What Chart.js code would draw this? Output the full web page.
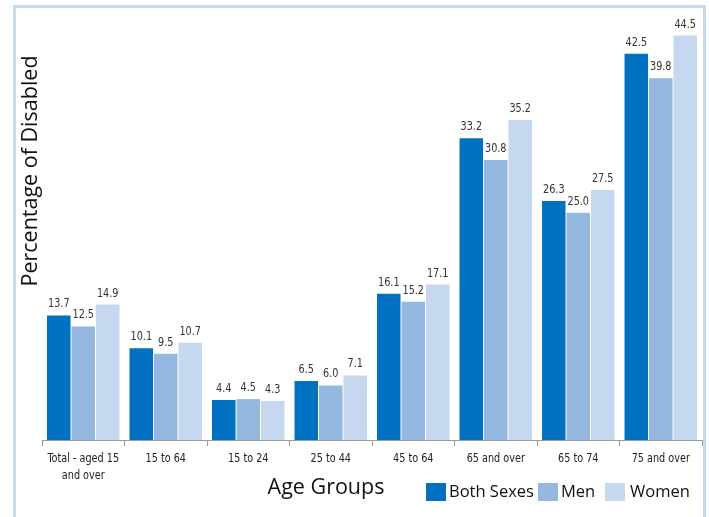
<!DOCTYPE html>
<html>
<head>
<meta charset="utf-8">
<script src="https://cdn.jsdelivr.net/npm/chart.js@4/dist/chart.umd.min.js"></script>
<style>
html,body{margin:0;padding:0;background:#fff;}
#wrap{width:709px;height:517px;position:relative;}
canvas{display:block;}
</style>
</head>
<body>
<div id="wrap"><canvas id="c" width="709" height="517"></canvas></div>
<script>
const categories = [["Total - aged 15","and over"],"15 to 64","15 to 24","25 to 44","45 to 64","65 and over","65 to 74","75 and over"];
const bothSexes = [13.7,10.1,4.4,6.5,16.1,33.2,26.3,42.5];
const men = [12.5,9.5,4.5,6.0,15.2,30.8,25.0,39.8];
const women = [14.9,10.7,4.3,7.1,17.1,35.2,27.5,44.5];
const seriesNames = ["Both Sexes","Men","Women"];
const seriesColors = ["#0070C0","#95B8E1","#C6D8EF"];
const yTitle = "Percentage of Disabled";
const xTitle = "Age Groups";

const narrow = '"DejaVu Sans Condensed","DejaVu Sans",sans-serif';
const mainFont = '"Open Sans","Noto Sans",sans-serif';
const squeeze = 0.86;

function narrowText(ctx, text, x, y){
  ctx.save();
  ctx.translate(x,y);
  ctx.scale(squeeze,1);
  ctx.fillText(text,0,0);
  ctx.restore();
}

const decor = {
  id:'decor',
  beforeDraw(chart){
    const ctx = chart.ctx;
    ctx.save();
    ctx.fillStyle='#fff';
    ctx.fillRect(0,0,chart.width,chart.height);
    ctx.strokeStyle='#C6D9F1';
    ctx.lineWidth=3;
    ctx.strokeRect(14.5,6.5,690,560);
    ctx.restore();
  },
  afterDatasetsDraw(chart){
    const ctx = chart.ctx;
    ctx.save();
    ctx.font = '12.5px '+narrow;
    ctx.fillStyle = '#333';
    ctx.textAlign='center';
    ctx.textBaseline='bottom';
    chart.data.datasets.forEach((ds,i)=>{
      chart.getDatasetMeta(i).data.forEach((bar,j)=>{
        narrowText(ctx, ds.data[j].toFixed(1), bar.x, bar.y-5);
      });
    });
    ctx.restore();
  },
  afterDraw(chart){
    const ctx = chart.ctx;
    const xs = chart.scales.x;
    ctx.save();
    // category labels
    ctx.font = '12.5px '+narrow;
    ctx.fillStyle='#222';
    ctx.textAlign='center';
    ctx.textBaseline='middle';
    chart.data.labels.forEach((lab,i)=>{
      const px = xs.getPixelForTick(i);
      const lines = Array.isArray(lab)?lab:[lab];
      lines.forEach((ln,k)=>narrowText(ctx, ln, px, 459+k*17));
    });
    ctx.restore();
    ctx.save();
    ctx.fillStyle='#111';
    ctx.font = '21.5px '+mainFont;
    ctx.textAlign='center';
    ctx.textBaseline='middle';
    ctx.translate(31,171);
    ctx.rotate(-Math.PI/2);
    ctx.fillText(yTitle,0,0);
    ctx.restore();
    ctx.save();
    ctx.fillStyle='#111';
    ctx.font = '21.5px '+mainFont;
    ctx.textAlign='center';
    ctx.textBaseline='middle';
    ctx.fillText(xTitle,326,488);
    // legend
    ctx.font = '16.5px '+mainFont;
    ctx.textAlign='left';
    const boxX = [426,538,605];
    chart.data.datasets.forEach((ds,i)=>{
      const x = boxX[i];
      ctx.fillStyle = ds.backgroundColor;
      ctx.fillRect(x,483,20,18);
      ctx.fillStyle='#111';
      ctx.fillText(ds.label, x+(i===2?25:23), 492);
    });
    ctx.restore();
  }
};

new Chart(document.getElementById('c'),{
  type:'bar',
  data:{
    labels:categories,
    datasets:[
      {label:seriesNames[0],data:bothSexes,backgroundColor:seriesColors[0]},
      {label:seriesNames[1],data:men,backgroundColor:seriesColors[1]},
      {label:seriesNames[2],data:women,backgroundColor:seriesColors[2]}
    ]
  },
  options:{
    responsive:false,
    animation:false,
    devicePixelRatio:1,
    layout:{padding:{left:42,right:7,top:31,bottom:0}},
    datasets:{bar:{categoryPercentage:0.89,barPercentage:0.96}},
    plugins:{legend:{display:false},tooltip:{enabled:false}},
    scales:{
      x:{
        grid:{display:true,drawOnChartArea:false,tickLength:6,color:'#9a9a9a',offset:true},
        border:{display:true,color:'#9a9a9a',width:1},
        ticks:{display:false},
        afterFit(scale){scale.height=77;}
      },
      y:{display:false,min:0,max:45}
    }
  },
  plugins:[decor]
});
</script>
</body>
</html>
